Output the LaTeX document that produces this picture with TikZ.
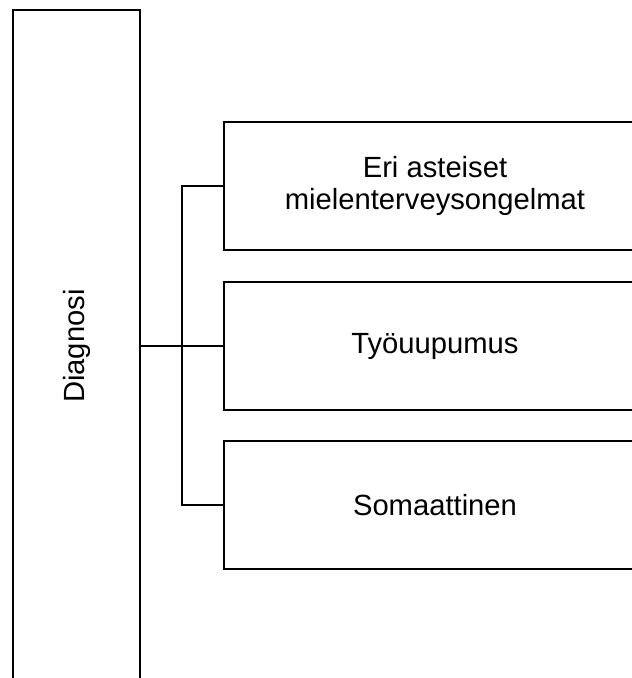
\documentclass[tikz,border=0pt]{standalone}
\usepackage{fontspec}
\setmainfont{Liberation Sans}
\begin{document}
\begin{tikzpicture}[x=1pt,y=-1pt,
  box/.style={draw=black,line width=2pt,minimum width=422pt,minimum height=128pt,
    inner sep=0pt,font=\fontsize{29.2}{31.5}\selectfont,align=center},
  link/.style={draw=black,line width=2pt}]
\useasboundingbox (0,0) rectangle (632,678);
\clip (0,0) rectangle (632,678);
\fill[white] (0,0) rectangle (632,678);
% tall category column, running off the bottom edge
\node[draw=black,line width=2pt,minimum width=127pt,minimum height=700pt,inner sep=0pt]
  (diag) at (76.5,360) {};
\node[rotate=90,font=\fontsize{29.2}{31.5}\selectfont] (diaglabel) at (77,346) {Diagnosi};
% the three diagnosis boxes
\node[box] (b1) at (435,186) {Eri asteiset\\mielenterveysongelmat};
\node[box] (b2) at (435,346) {Työuupumus};
\node[box] (b3) at (435,505) {Somaattinen};
% branching connectors
\coordinate (trunk) at (182,346);
\draw[link] (diag.east |- trunk) -- (b2.west);
\draw[link] (b1.west) -| (trunk) |- (b3.west);
\end{tikzpicture}
\end{document}
